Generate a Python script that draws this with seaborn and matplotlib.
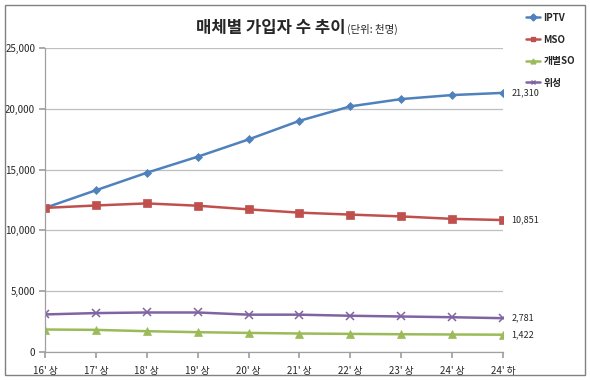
import matplotlib
matplotlib.use("Agg")
import matplotlib.pyplot as plt
from matplotlib.lines import Line2D
from matplotlib.patches import Rectangle
from matplotlib.ticker import FuncFormatter
import seaborn as sns
import pandas as pd

categories = ["16' 상", "17' 상", "18' 상", "19' 상", "20' 상", "21' 상", "22' 상", "23' 상", "24' 상", "24' 하"]
iptv = [11850, 13300, 14740, 16060, 17480, 19010, 20200, 20800, 21130, 21310]
mso = [11850, 12050, 12220, 12030, 11730, 11460, 11300, 11150, 10950, 10851]
so_ind = [1850, 1820, 1710, 1630, 1570, 1520, 1490, 1460, 1440, 1422]
sat = [3090, 3200, 3250, 3250, 3070, 3070, 2980, 2920, 2860, 2781]
series_names = ["IPTV", "MSO", "개별SO", "위성"]
title_main = "매체별 가입자 수 추이"
title_unit = "(단위: 천명)"

colors = {"IPTV": "#4F81BD", "MSO": "#C0504D", "개별SO": "#9BBB59", "위성": "#8064A2"}
markers = {"IPTV": "D", "MSO": "s", "개별SO": "^", "위성": "x"}
msizes = {"IPTV": 4.5, "MSO": 6, "개별SO": 6, "위성": 6}

rows = []
for name, vals in zip(series_names, [iptv, mso, so_ind, sat]):
    for c, v in zip(categories, vals):
        rows.append({"cat": c, "value": v, "series": name})
df = pd.DataFrame(rows)

sns.set_theme(style="white")
plt.rcParams["font.family"] = ["Noto Sans CJK KR", "DejaVu Sans"]

fig = plt.figure(figsize=(5.9, 3.8), dpi=100)
ax = fig.add_axes([45 / 590, 1 - 352 / 380, (503 - 45) / 590, (352 - 48) / 380])

df["xpos"] = df["cat"].map({c: i for i, c in enumerate(categories)})
for name in series_names:
    sub = df[df["series"] == name]
    sns.lineplot(data=sub, x="xpos", y="value", ax=ax, color=colors[name],
                 marker=markers[name], markersize=msizes[name], linewidth=1.8,
                 markeredgecolor=colors[name], markeredgewidth=1.1 if name == "위성" else 0.5,
                 legend=False)

ax.set_xlim(0, len(categories) - 1)
ax.set_ylim(0, 25000)
ax.set_xticks(range(len(categories)))
ax.set_xticklabels(categories, fontsize=7)
ax.set_yticks(range(0, 25001, 5000))
ax.yaxis.set_major_formatter(FuncFormatter(lambda v, p: f"{int(v):,}"))
ax.tick_params(axis="y", labelsize=7, length=4, color="#A0A0A0", pad=3, left=True)
ax.tick_params(axis="x", length=4, color="#A0A0A0", pad=6, bottom=True, direction="out")
ax.set_xlabel("")
ax.set_ylabel("")
ax.grid(axis="y", color="#BFBFBF", linewidth=0.9)
ax.grid(axis="x", visible=False)
for s in ["top", "right"]:
    ax.spines[s].set_visible(False)
for s in ["left", "bottom"]:
    ax.spines[s].set_color("#A0A0A0")
    ax.spines[s].set_linewidth(0.9)
ax.set_facecolor("white")

last = len(categories) - 1
for name, vals in zip(series_names, [iptv, mso, so_ind, sat]):
    ax.annotate(f"{vals[-1]:,}", xy=(last, vals[-1]), xytext=(6, 0),
                textcoords="offset points", va="center", ha="left", fontsize=6.5,
                annotation_clip=False)

handles = [Line2D([0], [0], color=colors[n], marker=markers[n], markersize=3.5,
                  linewidth=1.8, markeredgecolor=colors[n]) for n in series_names]
fig.legend(handles, series_names, loc="upper left", bbox_to_anchor=(522 / 590, 1 - 9 / 380),
           frameon=False, prop={"weight": "bold", "size": 7}, handlelength=1.5,
           handletextpad=0.3, labelspacing=1.2, borderaxespad=0)

# Title: main + unit on same baseline, spanning ~193..401 px
t1 = fig.text(0, 1 - 33 / 380, title_main, fontsize=12, fontweight="bold", ha="left", va="baseline")
t2 = fig.text(0, 1 - 33 / 380, title_unit, fontsize=7.5, ha="left", va="baseline")
fig.canvas.draw()
r = fig.canvas.get_renderer()
w1 = t1.get_window_extent(r).width
w2 = t2.get_window_extent(r).width
total = w1 + w2 + 1
start = (193 + 401) / 2 - total / 2
t1.set_x(start / 590)
t2.set_x((start + w1 + 1) / 590)

fig.patches.append(Rectangle((5 / 590, 5 / 380), 580 / 590, 370 / 380, transform=fig.transFigure,
                             fill=False, edgecolor="#808080", linewidth=1))

fig.savefig("out.png", dpi=100, facecolor="white")
